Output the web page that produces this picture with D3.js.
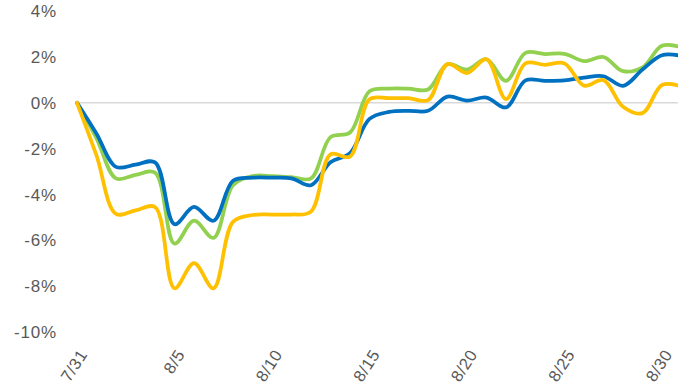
<!DOCTYPE html>
<html>
<head>
<meta charset="utf-8">
<script src="https://cdn.jsdelivr.net/npm/d3@7"></script>
<style>
  html, body { margin: 0; padding: 0; background: #fff; }
  text { font-family: "Liberation Sans", Arial, sans-serif; fill: #595959; }
</style>
</head>
<body>
<div id="chart"></div>
<script>
"use strict";
// daily dates, 7/31 .. 8/31
var dates = ["7/31", "8/1", "8/2", "8/3", "8/4", "8/5", "8/6", "8/7", "8/8", "8/9",
  "8/10", "8/11", "8/12", "8/13", "8/14", "8/15", "8/16", "8/17", "8/18", "8/19",
  "8/20", "8/21", "8/22", "8/23", "8/24", "8/25", "8/26", "8/27", "8/28", "8/29",
  "8/30", "8/31"];

var tickDates = ["7/31", "8/5", "8/10", "8/15", "8/20", "8/25", "8/30"];
var yTicks = [-10, -8, -6, -4, -2, 0, 2, 4];

// cumulative change, %
var greenVals = [0, -1.55, -3.3, -3.15, -3.05, -6.15, -5.15, -5.9, -3.6, -3.2,
  -3.2, -3.25, -3.3, -1.5, -1.3, 0.5, 0.62, 0.62, 0.58, 1.69,
  1.45, 1.9, 0.96, 2.18, 2.13, 2.14, 1.82, 2.0, 1.38, 1.55,
  2.49, 2.42];
var blueVals = [0, -1.35, -2.8, -2.7, -2.6, -5.3, -4.55, -5.15, -3.4, -3.27,
  -3.27, -3.3, -3.6, -2.6, -2.2, -0.7, -0.4, -0.35, -0.35, 0.27,
  0.1, 0.23, -0.2, 0.98, 0.96, 0.98, 1.1, 1.16, 0.74, 1.45,
  2.08, 2.05];
var yellowVals = [0, -2.3, -4.85, -4.7, -4.55, -8.1, -7.0, -8.1, -5.2, -4.9,
  -4.88, -4.88, -4.75, -2.25, -2.35, 0.15, 0.2, 0.2, 0.12, 1.69,
  1.3, 1.9, 0.16, 1.72, 1.66, 1.72, 0.75, 0.99, -0.17, -0.45,
  0.78, 0.72];

var w = 678, h = 391;

var svg = d3.select("#chart").append("svg")
  .attr("width", w)
  .attr("height", h);

var x = d3.scalePoint().domain(dates).range([77, 681.5]);
var y = d3.scaleLinear().domain([-10, 4]).range([331.8, 11.2]);

//y labels, no gridlines except the axis at zero
svg.append("g").selectAll("text")
  .data(yTicks)
  .enter().append("text")
  .attr("x", 57)
  .attr("y", function(d) { return y(d); })
  .attr("dy", "0.36em")
  .attr("text-anchor", "end")
  .style("font-size", "17px")
  .style("letter-spacing", "0.8px")
  .text(function(d) { return d + "%"; });

svg.append("line")
  .attr("x1", x("7/31"))
  .attr("x2", w)
  .attr("y1", y(0))
  .attr("y2", y(0))
  .attr("stroke", "#d9d9d9")
  .attr("stroke-width", 1.5);

//rotated date labels under the plot
svg.append("g").selectAll("text")
  .data(tickDates)
  .enter().append("text")
  .attr("transform", function(d) {
    return "translate(" + (x(d) + 1) + ",348) rotate(-57)";
  })
  .attr("text-anchor", "end")
  .attr("dy", "0.72em")
  .style("font-size", "16.5px")
  .style("letter-spacing", "0.5px")
  .text(function(d) { return d; });

var line = d3.line()
  .x(function(d, i) { return x(dates[i]); })
  .y(function(d) { return y(d); })
  .curve(d3.curveCatmullRom.alpha(0.5));

var series = [
  { vals: greenVals, color: "#92d050" },
  { vals: blueVals, color: "#0070c0" },
  { vals: yellowVals, color: "#ffc000" }
];

svg.append("g").selectAll("path")
  .data(series)
  .enter().append("path")
  .attr("d", function(d) { return line(d.vals); })
  .attr("fill", "none")
  .attr("stroke", function(d) { return d.color; })
  .attr("stroke-width", 3.75)
  .attr("stroke-linejoin", "round")
  .attr("stroke-linecap", "round");
</script>
</body>
</html>
